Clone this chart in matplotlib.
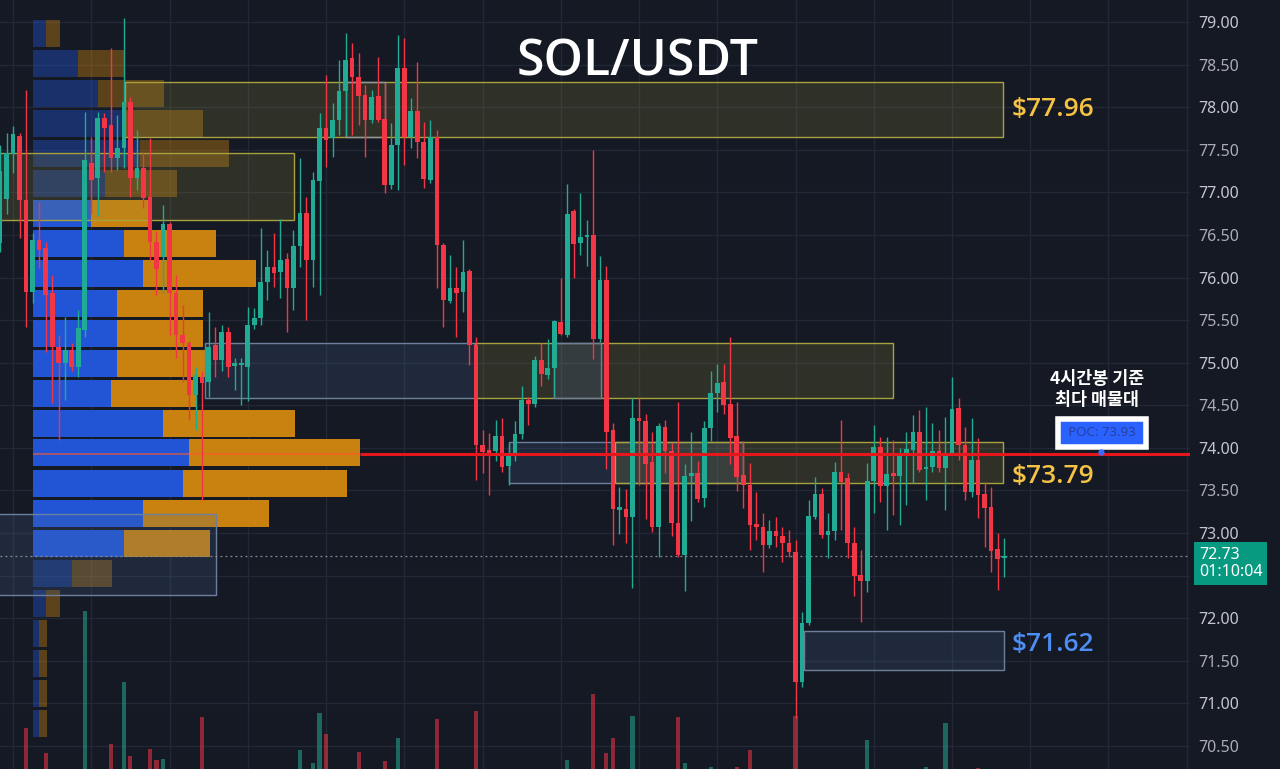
import matplotlib.pyplot as plt
import matplotlib.transforms as mtransforms
from matplotlib.colors import to_rgba
from matplotlib.patches import Rectangle

plt.rcParams['font.family'] = ['Noto Sans', 'DejaVu Sans']

BG = '#151924'
UP = '#22ab94'
DOWN = '#f23645'

# 4h candles, SOL/USDT
opens = [76.40, 76.92, 77.45, 77.66, 76.91, 75.83, 76.44, 76.35, 75.82, 75.18,
         75.00, 75.15, 74.95, 75.38, 77.35, 77.17, 77.87, 77.79, 77.40, 77.52,
         78.06, 77.17, 77.29, 76.95, 76.42, 76.24, 76.63, 75.82, 75.33, 75.23,
         74.62, 74.83, 74.77, 75.21, 75.03, 75.36, 74.96, 74.97, 74.95, 75.44,
         75.52, 75.95, 76.12, 76.06, 76.22, 75.88, 76.37, 76.76, 76.21, 77.13,
         77.76, 77.64, 77.85, 78.19, 78.58, 78.35, 78.14, 77.85, 78.13, 77.86,
         77.09, 77.56, 78.46, 77.65, 77.95, 77.59, 77.15, 77.65, 76.38, 75.72,
         75.88, 75.83, 76.08, 75.21, 74.03, 73.98, 73.96, 74.14, 73.79, 73.92,
         74.16, 74.56, 74.52, 75.03, 74.86, 74.94, 75.48, 75.33, 76.78, 76.40,
         76.47, 76.50, 75.28, 75.97, 74.21, 73.27, 73.28, 73.19, 74.35, 74.32,
         73.83, 73.07, 74.25, 73.96, 73.12, 72.74, 73.67, 73.70, 73.41, 74.23,
         74.64, 74.77, 74.52, 74.14, 73.68, 73.56, 73.11, 73.07, 72.86, 73.02,
         72.97, 72.88, 72.78, 71.25, 71.94, 73.19, 73.46, 72.98, 73.02, 73.72,
         73.65, 72.88, 72.51, 72.44, 73.61, 74.01, 73.55, 73.70, 73.67, 73.93,
         73.98, 74.19, 73.75, 73.78, 73.96, 73.76, 73.94, 74.47, 74.03, 73.48,
         73.86, 73.46, 73.31, 72.81, 72.71]
highs = [77.55, 77.70, 77.78, 77.70, 78.20, 76.52, 76.89, 76.42, 76.03, 75.33,
         75.54, 75.23, 75.62, 77.94, 77.65, 77.94, 77.93, 78.69, 77.91, 79.05,
         78.12, 77.73, 77.47, 77.64, 76.55, 76.85, 76.65, 76.03, 75.68, 75.25,
         74.95, 74.90, 75.60, 75.42, 75.44, 75.42, 75.05, 75.05, 75.65, 75.64,
         76.58, 76.32, 76.52, 76.69, 76.29, 76.56, 77.40, 76.95, 77.24, 77.93,
         78.38, 78.05, 78.55, 78.87, 78.75, 78.64, 78.26, 78.20, 78.59, 78.28,
         77.81, 78.85, 78.81, 78.11, 78.53, 77.83, 77.85, 77.73, 76.40, 76.26,
         76.12, 76.44, 76.10, 75.30, 74.21, 74.18, 74.33, 74.35, 74.06, 74.32,
         74.73, 74.60, 75.08, 75.23, 75.28, 75.50, 75.99, 77.10, 76.80, 76.99,
         76.68, 77.50, 76.25, 76.14, 74.29, 73.54, 73.52, 74.59, 74.59, 74.40,
         74.19, 74.29, 74.33, 74.06, 74.54, 73.81, 74.19, 73.85, 74.31, 74.90,
         74.98, 74.99, 75.30, 74.54, 74.08, 73.82, 73.48, 73.24, 73.15, 73.19,
         73.07, 73.04, 72.92, 72.07, 73.39, 73.66, 73.53, 73.24, 73.84, 74.33,
         73.70, 73.07, 72.80, 73.82, 74.27, 74.13, 74.13, 74.09, 74.00, 74.19,
         74.39, 74.44, 74.48, 74.29, 74.21, 74.36, 74.83, 74.59, 74.25, 74.35,
         74.12, 73.60, 73.54, 73.00, 72.94]
lows = [76.30, 76.75, 77.23, 76.46, 75.42, 75.70, 76.11, 75.13, 74.53, 74.09,
        74.56, 74.90, 74.83, 75.30, 76.75, 76.72, 77.24, 77.24, 77.26, 77.29,
        76.95, 77.03, 76.82, 76.21, 75.80, 75.82, 75.33, 75.06, 74.77, 74.33,
        74.21, 73.39, 74.60, 74.83, 74.90, 74.83, 74.68, 74.50, 74.55, 75.40,
        75.44, 75.74, 75.89, 75.76, 75.36, 75.62, 76.12, 75.50, 75.89, 75.79,
        77.30, 77.41, 77.67, 77.67, 77.67, 77.79, 77.41, 77.81, 77.83, 76.99,
        77.04, 77.03, 77.32, 77.52, 77.40, 77.05, 77.11, 75.88, 75.42, 75.70,
        75.30, 75.60, 74.97, 73.62, 73.70, 73.45, 73.85, 73.72, 73.56, 73.85,
        74.10, 74.27, 74.48, 74.73, 74.81, 74.61, 75.32, 75.30, 75.99, 76.26,
        76.14, 75.04, 75.24, 73.75, 72.86, 72.99, 72.88, 72.36, 73.56, 73.16,
        73.01, 72.72, 73.70, 72.97, 72.72, 72.32, 73.14, 73.37, 73.31, 74.08,
        74.42, 74.40, 73.81, 73.49, 73.29, 72.80, 72.92, 72.54, 72.82, 72.84,
        72.66, 72.72, 70.83, 71.19, 71.92, 73.17, 72.94, 72.71, 72.92, 73.04,
        72.71, 72.26, 71.96, 72.31, 73.24, 73.37, 73.04, 73.21, 73.09, 73.33,
        73.59, 73.72, 73.39, 73.72, 73.72, 73.27, 73.92, 73.86, 73.39, 73.42,
        73.18, 72.84, 72.54, 72.33, 72.48]
closes = [77.25, 77.46, 77.68, 76.91, 75.83, 76.44, 76.32, 75.80, 75.18, 75.00,
          75.15, 74.95, 75.41, 77.38, 77.15, 77.87, 77.76, 77.40, 77.52, 78.06,
          77.17, 77.29, 76.93, 76.42, 76.10, 76.63, 75.82, 75.33, 75.23, 74.62,
          74.86, 74.76, 75.18, 75.03, 75.36, 74.95, 75.00, 75.00, 75.44, 75.52,
          75.95, 76.12, 76.05, 76.21, 75.88, 76.37, 76.76, 76.21, 77.15, 77.76,
          77.61, 77.85, 78.19, 78.55, 78.35, 78.13, 77.85, 78.12, 77.85, 77.09,
          77.56, 78.46, 77.65, 77.95, 77.59, 77.16, 77.65, 76.38, 75.74, 75.88,
          75.82, 76.06, 75.21, 74.03, 73.95, 73.94, 74.14, 73.77, 73.92, 74.16,
          74.56, 74.52, 75.03, 74.87, 74.94, 75.49, 75.34, 76.75, 76.39, 76.47,
          76.50, 75.28, 75.97, 74.19, 73.28, 73.31, 73.19, 74.35, 74.31, 73.81,
          73.07, 74.26, 73.96, 73.12, 72.74, 73.67, 73.70, 73.40, 74.23, 74.64,
          74.76, 74.50, 74.12, 73.66, 73.56, 73.09, 73.07, 72.86, 73.02, 72.97,
          72.88, 72.78, 71.25, 71.94, 73.20, 73.46, 72.98, 73.02, 73.72, 73.60,
          72.88, 72.50, 72.44, 73.61, 74.01, 73.55, 73.69, 73.67, 73.93, 73.99,
          74.19, 73.74, 73.78, 73.96, 73.76, 73.94, 74.46, 74.03, 73.48, 73.86,
          73.45, 73.29, 72.79, 72.70, 72.73]
volumes = [22, 18, 15, 30, 81, 24, 19, 56, 33, 28,
           17, 14, 21, 198, 31, 26, 12, 65, 16, 127,
           53, 14, 25, 60, 49, 50, 35, 27, 18, 29,
           16, 92, 24, 13, 15, 19, 9, 11, 23, 10,
           26, 14, 12, 17, 25, 21, 59, 33, 46, 96,
           75, 19, 24, 30, 22, 57, 27, 12, 20, 48,
           18, 71, 36, 16, 22, 25, 19, 90, 37, 15,
           20, 17, 34, 98, 13, 26, 14, 23, 16, 20,
           21, 9, 24, 18, 14, 27, 15, 49, 28, 12,
           11, 115, 30, 56, 71, 13, 22, 93, 19, 28,
           32, 37, 17, 29, 92, 46, 16, 15, 36, 42,
           14, 18, 35, 42, 22, 59, 12, 25, 11, 10,
           15, 13, 93, 38, 39, 16, 24, 14, 30, 27,
           33, 24, 20, 69, 31, 22, 18, 14, 19, 13,
           24, 26, 42, 12, 17, 86, 36, 25, 31, 23,
           41, 20, 34, 15, 9]

# volume profile (price rows, buy / sell volume)
vp_price = [78.86, 78.51, 78.16, 77.81, 77.46, 77.10, 76.75, 76.40, 76.05, 75.70, 75.34, 74.99,
            74.64, 74.29, 73.94, 73.58, 73.23, 72.88, 72.53, 72.17, 71.82, 71.47, 71.12, 70.77]
vp_buy = [13, 45, 65, 92, 107, 72, 58, 91, 110, 84, 84, 84,
          78, 130, 156, 150, 110, 91, 39, 13, 6, 6, 6, 6]
vp_sell = [14, 46, 66, 78, 89, 72, 58, 92, 113, 86, 86, 88,
           86, 132, 171, 164, 126, 86, 40, 14, 8, 8, 8, 8]
vp_value_area = [False, False, False, False, False, False, True, True, True, True, True, True,
                 True, True, True, True, True, True, False, False, False, False, False, False]
poc = 73.93

# zones: candle index range, price range
zone_start = [19.2, -0.5, 31.4, 72.9, 85.0, 78.1, 94.3, 123.3, -0.5, 53.1]
zone_end = [153.8, 45.1, 72.9, 137.0, 92.2, 114.0, 153.8, 154.0, 33.1, 59.0]
zone_low = [77.65, 76.68, 74.59, 74.59, 74.59, 73.59, 73.59, 71.39, 72.27, 77.65]
zone_high = [78.30, 77.46, 75.23, 75.23, 75.23, 74.07, 74.07, 71.85, 73.22, 78.30]
zone_kind = ['sell', 'sell', 'buy', 'sell', 'buy', 'buy', 'sell', 'buy', 'buy', 'mark']

level_text = ['$77.96', '$73.79', '$71.62']
level_price = [77.97, 73.66, 71.69]
level_color = ['#f5c343', '#f5c343', '#4d8ef5']

price_ticks = [79.0, 78.5, 78.0, 77.5, 77.0, 76.5, 76.0, 75.5, 75.0, 74.5,
               74.0, 73.5, 73.0, 72.5, 72.0, 71.5, 71.0, 70.5]

idx = list(range(len(opens)))
col = [UP if c >= o else DOWN for o, c in zip(opens, closes)]

fig = plt.figure(figsize=(12.8, 7.69), dpi=100, facecolor=BG)
rect = [0, 0, 1190 / 1280, 1]
xr = (0, 182.5)
yr = (70.23, 79.258)

# background: grid + price scale
ax = fig.add_axes(rect, facecolor=BG)
ax.set_xlim(*xr)
ax.set_ylim(*yr)
ax.set_xticks(range(2, 183, 12))
ax.set_yticks(price_ticks)
# 72.50 sits under the live price tag
ax.set_yticklabels(['' if p == 72.5 else f'{p:.2f}' for p in price_ticks])
ax.grid(True, color='#232836', lw=1)
ax.yaxis.tick_right()
ax.tick_params(axis='x', length=0, labelbottom=False)
ax.tick_params(axis='y', length=0, pad=6, labelsize=11.5, labelcolor='#a9acb5')
for lab, p in zip(ax.get_yticklabels(), price_ticks):
    if p == int(p):
        lab.set_fontweight('bold')
        lab.set_color('#c3c6ce')
for s in ax.spines.values():
    s.set_visible(False)

# volume
ax_v = fig.add_axes(rect, sharex=ax)
ax_v.patch.set_alpha(0)
ax_v.set_ylim(40, 809)
ax_v.bar(idx, volumes, width=0.62, color=col, alpha=0.55)
ax_v.axis('off')

# volume profile
ax_p = fig.add_axes(rect, sharey=ax)
ax_p.patch.set_alpha(0)
ax_p.set_xlim(-33, 1157)
a_rows = [1.0 if v else 0.4 for v in vp_value_area]
ax_p.barh(vp_price, vp_buy, height=0.317, color=[to_rgba('#2155d6', a) for a in a_rows])
ax_p.barh(vp_price, vp_sell, left=vp_buy, height=0.317, color=[to_rgba('#c9810f', a) for a in a_rows])
vp_total = [b + s for b, s in zip(vp_buy, vp_sell)]
ax_p.hlines(poc, 0, max(vp_total), color='#ff5a2a', lw=1.2, alpha=0.7)
ax_p.axis('off')

# candles, zones, labels
ax_c = fig.add_axes(rect, sharex=ax, sharey=ax)
ax_c.patch.set_alpha(0)
ax_c.axis('off')

for x0, x1, lo, hi, k in zip(zone_start, zone_end, zone_low, zone_high, zone_kind):
    if k == 'sell':
        fc, ec = to_rgba('#9a9440', 0.2), '#a8a23c'
    elif k == 'buy':
        fc, ec = to_rgba('#4f6d9a', 0.2), '#6c809e'
    else:
        fc, ec = 'none', '#8f949e'
    ax_c.add_patch(Rectangle((x0, lo), x1 - x0, hi - lo, facecolor=fc, edgecolor=ec, lw=1, zorder=1))

ax_c.vlines(idx, lows, highs, colors=col, lw=1, zorder=3)
bottoms = [min(o, c) for o, c in zip(opens, closes)]
heights = [max(abs(c - o), 0.012) for o, c in zip(opens, closes)]
ax_c.bar(idx, heights, bottom=bottoms, width=0.72, color=col, zorder=4)

ax_c.axhline(closes[-1], color='#8a8d96', lw=0.9, ls=(0, (1.5, 2.5)), zorder=2)

poc_x = ax_c.transData.inverted().transform(ax_p.transData.transform((max(vp_total), poc)))[0]
ax_c.hlines(poc, poc_x, xr[1], color='#e5171d', lw=2.2, zorder=5)

for t, p, c in zip(level_text, level_price, level_color):
    ax_c.text(155.2, p, t, color=c, fontsize=19, fontweight='semibold', family=['Open Sans', 'DejaVu Sans'],
              ha='left', va='center', zorder=6)

ax_c.text(168.3, 74.68, '4시간봉 기준\n최다 매물대', color='white', fontsize=12.5, fontweight='bold',
          ha='center', va='center', linespacing=1.22, family=['Noto Sans CJK KR', 'DejaVu Sans'], zorder=6)
ax_c.text(169.0, 74.175, ' POC: 73.93 ', color='#2a3f9e', fontsize=9.5, ha='center', va='center', zorder=7,
          bbox=dict(boxstyle='square,pad=0.55', fc='#2962ff', ec='white', lw=4))
ax_c.plot([168.9], [73.955], 'o', ms=3.5, color='#3d6bff', zorder=8)

trans = mtransforms.blended_transform_factory(ax_c.transAxes, ax_c.transData)
ax_c.text(1.0075, 72.64, f'{closes[-1]:.2f}\n01:10:04', transform=trans, color='white', fontsize=11.5,
          ha='left', va='center', linespacing=1.1,
          bbox=dict(boxstyle='square,pad=0.3', fc='#089981', ec='none'))

fig.text(0.498, 0.919, 'SOL/USDT', color='white', fontsize=36, fontweight='semibold',
         family=['Open Sans', 'DejaVu Sans'], ha='center', va='center')

fig.savefig('out.png', dpi=100, facecolor=BG)
